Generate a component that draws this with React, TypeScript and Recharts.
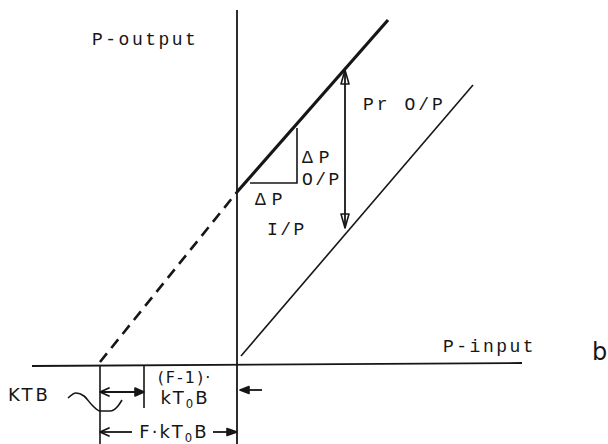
import React from 'react';
import { ComposedChart, XAxis, YAxis, Line, ReferenceLine, ReferenceDot } from 'recharts';

// Data coordinates: origin at the intersection of the P-input / P-output axes.
const outputLine = [{ x: 0, y: 172 }, { x: 151, y: 344 }];
const extrapolatedLine = [{ x: -137, y: 2 }, { x: 0, y: 172 }];
const inputLine = [{ x: 4, y: 8 }, { x: 236, y: 279 }];
const deltaTriangle = [{ x: 13, y: 181 }, { x: 60, y: 181 }, { x: 60, y: 236 }];
const ktbSquiggle = [
  { x: -169, y: -34 }, { x: -161, y: -29 }, { x: -153, y: -32 }, { x: -145, y: -41 },
  { x: -137, y: -47 }, { x: -127, y: -47 }, { x: -119, y: -42 }, { x: -115, y: -36 },
];
const verticalAxis = [{ x: 0, y: -80 }, { x: 0, y: 354 }];
const horizontalAxis = [{ x: -205, y: -2 }, { x: 285, y: 1 }];
const noiseTicks = [
  [{ x: -137, y: -1 }, { x: -137, y: -80 }],
  [{ x: -93, y: -1 }, { x: -93, y: -44 }],
];

type Head = 'none' | 'open' | 'filled' | 'chevron';
const arrows: { from: { x: number; y: number }; to: { x: number; y: number }; start: Head; end: Head; size: number; half: number }[] = [
  { from: { x: 108, y: 136 }, to: { x: 108, y: 294 }, start: 'open', end: 'open', size: 14, half: 4 },
  { from: { x: -137, y: -28 }, to: { x: -93, y: -28 }, start: 'chevron', end: 'filled', size: 9, half: 4 },
  { from: { x: 3, y: -26 }, to: { x: 25, y: -26 }, start: 'filled', end: 'none', size: 9, half: 3.5 },
  { from: { x: -137, y: -68 }, to: { x: -105, y: -68 }, start: 'chevron', end: 'none', size: 9, half: 4 },
  { from: { x: -24, y: -68 }, to: { x: 0, y: -68 }, start: 'none', end: 'filled', size: 10, half: 3.5 },
];

const MONO = '"Liberation Mono", "DejaVu Sans Mono", monospace';
const HAND = '"DejaVu Sans", "Liberation Sans", sans-serif';
const labels: { text: string; x: number; y: number; anchor: 'start' | 'middle'; font: string; size: number; spacing: number }[] = [
  { text: 'P-output', x: -145, y: 319, anchor: 'start', font: MONO, size: 18, spacing: 2.5 },
  { text: 'Pr O/P', x: 126, y: 254, anchor: 'start', font: MONO, size: 18, spacing: 3 },
  { text: 'ΔP', x: 65, y: 201, anchor: 'start', font: MONO, size: 18, spacing: 6 },
  { text: 'O/P', x: 65, y: 179, anchor: 'start', font: MONO, size: 18, spacing: 2.5 },
  { text: 'ΔP', x: 18, y: 159, anchor: 'start', font: MONO, size: 18, spacing: 6 },
  { text: 'I/P', x: 30, y: 129, anchor: 'start', font: MONO, size: 18, spacing: 2.5 },
  { text: 'P-input', x: 206, y: 12, anchor: 'start', font: MONO, size: 18, spacing: 2.5 },
  { text: 'b', x: 355, y: 4, anchor: 'start', font: HAND, size: 24, spacing: 0 },
  { text: 'KTB', x: -229, y: -37, anchor: 'start', font: HAND, size: 18, spacing: 3 },
  { text: '(F-1)·', x: -52, y: -19, anchor: 'middle', font: HAND, size: 16, spacing: 2 },
  { text: 'kT₀B', x: -52, y: -40, anchor: 'middle', font: HAND, size: 18, spacing: 2 },
  { text: 'F·kT₀B', x: -63, y: -74, anchor: 'middle', font: HAND, size: 18, spacing: 2 },
];

const INK = '#161616';

function arrowShape(start: Head, end: Head, size: number, half: number) {
  return (p: any) => {
    const x1 = Number(p.x1), y1 = Number(p.y1), x2 = Number(p.x2), y2 = Number(p.y2);
    const dx = x2 - x1, dy = y2 - y1;
    const L = Math.hypot(dx, dy) || 1;
    const ux = dx / L, uy = dy / L;
    const head = (tx: number, ty: number, dx0: number, dy0: number, kind: Head, key: string) => {
      if (kind === 'none') return null;
      const bx = tx - dx0 * size, by = ty - dy0 * size;
      const px = -dy0 * half, py = dx0 * half;
      if (kind === 'chevron') {
        return (
          <polyline key={key} points={`${bx + px},${by + py} ${tx},${ty} ${bx - px},${by - py}`}
            fill="none" stroke={INK} strokeWidth={1.8} strokeLinejoin="round" strokeLinecap="round" />
        );
      }
      return (
        <polygon key={key} points={`${tx},${ty} ${bx + px},${by + py} ${bx - px},${by - py}`}
          fill={kind === 'filled' ? INK : 'none'} stroke={INK} strokeWidth={1.6} strokeLinejoin="round" />
      );
    };
    return (
      <g>
        <line x1={x1} y1={y1} x2={x2} y2={y2} stroke={INK} strokeWidth={1.8} />
        {head(x1, y1, -ux, -uy, start, 's')}
        {head(x2, y2, ux, uy, end, 'e')}
      </g>
    );
  };
}

function renderText(text: string) {
  const idx = text.indexOf('₀');
  if (idx < 0) return text;
  return [
    <tspan key="a">{text.slice(0, idx)}</tspan>,
    <tspan key="b" dy={4} fontSize="0.65em">0</tspan>,
    <tspan key="c" dy={-4}>{text.slice(idx + 1)}</tspan>,
  ];
}

function textShape(l: (typeof labels)[number]) {
  return (p: any) => (
    <text x={p.cx} y={p.cy} textAnchor={l.anchor} fontFamily={l.font} fontSize={l.size}
      letterSpacing={l.spacing} fill={INK}>
      {renderText(l.text)}
    </text>
  );
}

const lineProps = { type: 'linear' as const, dataKey: 'y', dot: false, activeDot: false, isAnimationActive: false, legendType: 'none' as const };

export default function App() {
  return (
    <div style={{ position: 'absolute', left: 0, top: 0, width: 608, height: 444, background: '#ffffff' }}>
      <ComposedChart width={608} height={444} margin={{ top: 0, right: 0, bottom: 0, left: 0 }}>
        <XAxis dataKey="x" type="number" domain={[-237, 371]} allowDataOverflow hide />
        <YAxis type="number" domain={[-80, 364]} allowDataOverflow hide />
        <Line {...lineProps} data={verticalAxis} stroke={INK} strokeWidth={1.8} />
        <Line {...lineProps} data={horizontalAxis} stroke={INK} strokeWidth={1.8} />
        {noiseTicks.map((t, i) => (
          <Line key={`t${i}`} {...lineProps} data={t} stroke={INK} strokeWidth={1.6} />
        ))}
        <Line {...lineProps} data={outputLine} stroke={INK} strokeWidth={3.2} />
        <Line {...lineProps} data={extrapolatedLine} stroke={INK} strokeWidth={2.6} strokeDasharray="11 7" />
        <Line {...lineProps} data={inputLine} stroke={INK} strokeWidth={1.6} />
        <Line {...lineProps} data={deltaTriangle} stroke={INK} strokeWidth={1.6} />
        <Line {...lineProps} type="monotone" data={ktbSquiggle} stroke={INK} strokeWidth={1.6} />
        {arrows.map((a, i) => (
          <ReferenceLine key={`a${i}`} segment={[a.from, a.to]} ifOverflow="visible"
            shape={arrowShape(a.start, a.end, a.size, a.half)} />
        ))}
        {labels.map((l, i) => (
          <ReferenceDot key={`l${i}`} x={l.x} y={l.y} r={0} ifOverflow="visible" shape={textShape(l)} />
        ))}
      </ComposedChart>
    </div>
  );
}
